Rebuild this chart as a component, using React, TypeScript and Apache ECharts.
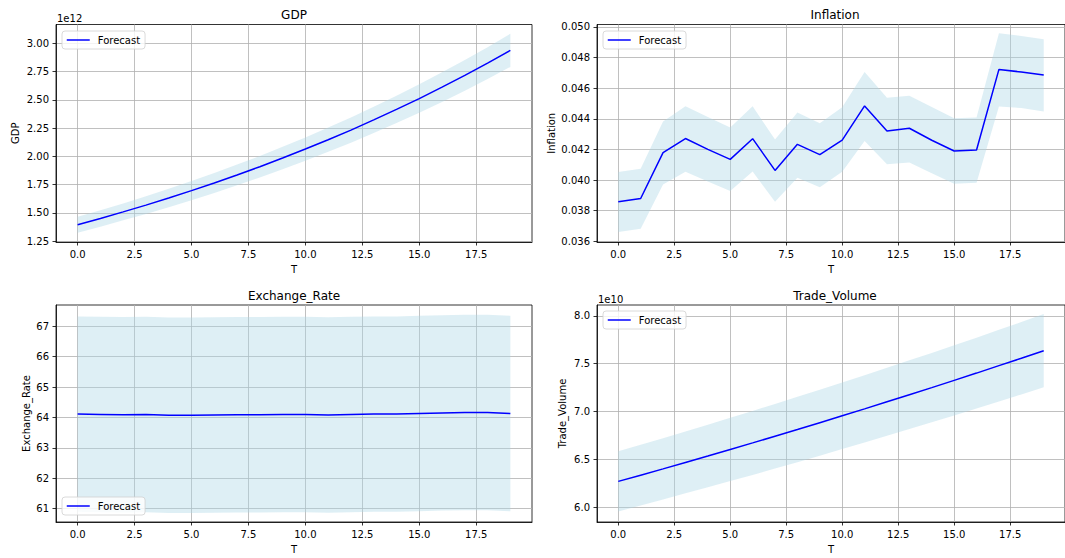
import React, { useEffect, useRef } from "react";
import * as echarts from "echarts";

const T = [0, 1, 2, 3, 4, 5, 6, 7, 8, 9, 10, 11, 12, 13, 14, 15, 16, 17, 18, 19];
const X_TICKS = [0, 2.5, 5, 7.5, 10, 12.5, 15, 17.5];

// GDP (x 1e12)
const GDP = [1.395, 1.451, 1.509, 1.569, 1.632, 1.697, 1.765, 1.836, 1.909, 1.986, 2.065, 2.148, 2.233, 2.323, 2.416, 2.512, 2.613, 2.717, 2.826, 2.939];
const GDP_UP = [1.465, 1.524, 1.584, 1.647, 1.714, 1.782, 1.853, 1.928, 2.004, 2.085, 2.168, 2.255, 2.345, 2.439, 2.537, 2.638, 2.744, 2.853, 2.967, 3.086];
const GDP_LO = [1.325, 1.378, 1.434, 1.491, 1.55, 1.612, 1.677, 1.744, 1.814, 1.887, 1.962, 2.041, 2.121, 2.207, 2.295, 2.386, 2.482, 2.581, 2.685, 2.792];
const GDP_TICKS = [1.25, 1.5, 1.75, 2.0, 2.25, 2.5, 2.75, 3.0];

// Inflation
const INF = [0.03858, 0.0388, 0.04179, 0.04271, 0.0420, 0.04135, 0.0427, 0.04063, 0.04233, 0.04166, 0.04261, 0.04484, 0.0432, 0.04338, 0.0426, 0.0419, 0.04196, 0.04722, 0.04705, 0.04685];
const INF_UP = [0.04052, 0.04074, 0.04382, 0.04482, 0.04412, 0.04343, 0.04482, 0.04264, 0.04441, 0.04371, 0.04475, 0.04705, 0.04537, 0.0455, 0.04477, 0.04403, 0.04408, 0.04958, 0.0494, 0.04919];
const INF_LO = [0.03661, 0.03683, 0.03971, 0.04054, 0.03991, 0.03928, 0.04056, 0.03858, 0.04015, 0.03954, 0.04054, 0.04255, 0.04104, 0.04115, 0.04045, 0.03976, 0.03982, 0.0448, 0.0447, 0.04447];
const INF_TICKS = [0.036, 0.038, 0.04, 0.042, 0.044, 0.046, 0.048, 0.05];

// Exchange rate
const FX = [64.11, 64.1, 64.09, 64.1, 64.07, 64.07, 64.08, 64.09, 64.09, 64.1, 64.1, 64.08, 64.1, 64.11, 64.11, 64.13, 64.15, 64.16, 64.16, 64.13];
const FX_UP = [67.33, 67.32, 67.31, 67.32, 67.29, 67.29, 67.3, 67.31, 67.31, 67.32, 67.32, 67.3, 67.32, 67.33, 67.33, 67.35, 67.37, 67.38, 67.38, 67.35];
const FX_LO = [60.89, 60.88, 60.87, 60.88, 60.85, 60.85, 60.86, 60.87, 60.87, 60.88, 60.88, 60.86, 60.88, 60.89, 60.89, 60.91, 60.93, 60.94, 60.94, 60.91];
const FX_TICKS = [61, 62, 63, 64, 65, 66, 67];

// Trade volume (x 1e10)
const TV = [6.271, 6.336, 6.402, 6.469, 6.536, 6.605, 6.673, 6.743, 6.813, 6.884, 6.956, 7.028, 7.102, 7.176, 7.25, 7.326, 7.402, 7.48, 7.557, 7.636];
const TV_UP = [6.585, 6.653, 6.722, 6.792, 6.863, 6.935, 7.007, 7.08, 7.154, 7.228, 7.304, 7.379, 7.457, 7.535, 7.613, 7.692, 7.772, 7.854, 7.935, 8.018];
const TV_LO = [5.957, 6.019, 6.082, 6.146, 6.209, 6.275, 6.339, 6.406, 6.472, 6.54, 6.608, 6.677, 6.747, 6.817, 6.888, 6.96, 7.032, 7.106, 7.179, 7.254];
const TV_TICKS = [6.0, 6.5, 7.0, 7.5, 8.0];

const FONT = "DejaVu Sans";

type Panel = {
  title: string;
  yName: string;
  mid: number[];
  up: number[];
  lo: number[];
  ticks: number[];
  yMin: number;
  yMax: number;
  decimals: number;
  offsetText: string;
  grid: { left: number; top: number; width: number; height: number };
  nameGap: number;
  legendTop: number;
};

const PANELS: Panel[] = [
  { title: "GDP", yName: "GDP", mid: GDP, up: GDP_UP, lo: GDP_LO, ticks: GDP_TICKS, yMin: 1.2425, yMax: 3.1675, decimals: 2, offsetText: "1e12",
    grid: { left: 56, top: 24.5, width: 476, height: 217.5 }, nameGap: 36, legendTop: 31 },
  { title: "Inflation", yName: "Inflation", mid: INF, up: INF_UP, lo: INF_LO, ticks: INF_TICKS, yMin: 0.03596, yMax: 0.05015, decimals: 3, offsetText: "",
    grid: { left: 597, top: 24.5, width: 476, height: 217.5 }, nameGap: 41, legendTop: 31 },
  { title: "Exchange_Rate", yName: "Exchange_Rate", mid: FX, up: FX_UP, lo: FX_LO, ticks: FX_TICKS, yMin: 60.555, yMax: 67.705, decimals: 0, offsetText: "",
    grid: { left: 56, top: 305, width: 476, height: 217 }, nameGap: 25, legendTop: 497 },
  { title: "Trade_Volume", yName: "Trade_Volume", mid: TV, up: TV_UP, lo: TV_LO, ticks: TV_TICKS, yMin: 5.847, yMax: 8.113, decimals: 1, offsetText: "1e10",
    grid: { left: 597, top: 305, width: 476, height: 217 }, nameGap: 30, legendTop: 311 },
];

export default function App() {
  const ref = useRef<HTMLDivElement>(null);
  useEffect(() => {
    if (!ref.current) return;
    const chart = echarts.init(ref.current, undefined, { renderer: "svg" });
    const axisLineStyle = { color: "#000", width: 0.8 };
    const splitLine = { show: true, lineStyle: { color: "#b0b0b0", width: 0.8 } };

    const grids: any[] = [];
    const xAxes: any[] = [];
    const yAxes: any[] = [];
    const series: any[] = [];
    const legends: any[] = [];
    const graphics: any[] = [];

    PANELS.forEach((p, gi) => {
      grids.push({ ...p.grid, show: true, borderColor: "#000", borderWidth: 0.8, backgroundColor: "transparent" });
      xAxes.push({
        type: "value", gridIndex: gi, min: -0.95, max: 19.95,
        name: "T", nameLocation: "middle", nameGap: 22,
        nameTextStyle: { fontFamily: FONT, fontSize: 10, color: "#000" },
        axisLine: { show: true, onZero: false, lineStyle: axisLineStyle },
        axisTick: { show: true, length: 3.5, lineStyle: axisLineStyle, customValues: X_TICKS },
        axisLabel: { fontFamily: FONT, fontSize: 10, color: "#000", margin: 7, customValues: X_TICKS,
          formatter: (v: number) => v.toFixed(1) },
        splitLine: { ...splitLine, customValues: X_TICKS },
      });
      yAxes.push({
        type: "value", gridIndex: gi, min: p.yMin, max: p.yMax,
        name: p.yName, nameLocation: "middle", nameGap: p.nameGap,
        nameTextStyle: { fontFamily: FONT, fontSize: 10, color: "#000" },
        axisLine: { show: true, onZero: false, lineStyle: axisLineStyle },
        axisTick: { show: true, length: 3.5, lineStyle: axisLineStyle, customValues: p.ticks },
        axisLabel: { fontFamily: FONT, fontSize: 10, color: "#000", margin: 7, customValues: p.ticks,
          formatter: (v: number) => v.toFixed(p.decimals) },
        splitLine: { ...splitLine, customValues: p.ticks },
      });
      series.push({
        type: "custom", xAxisIndex: gi, yAxisIndex: gi, silent: true, z: 1,
        data: T.map((t, i) => [t, p.lo[i], p.up[i]]),
        encode: { x: 0, y: [1, 2] },
        renderItem: (params: any, api: any) => {
          if (params.dataIndex !== 0) return null;
          const pts: number[][] = [];
          for (let i = 0; i < T.length; i++) pts.push(api.coord([T[i], p.up[i]]));
          for (let i = T.length - 1; i >= 0; i--) pts.push(api.coord([T[i], p.lo[i]]));
          return { type: "polygon", shape: { points: pts }, style: { fill: "rgba(173,216,230,0.4)", stroke: null } };
        },
      });
      series.push({
        type: "line", name: "Forecast", xAxisIndex: gi, yAxisIndex: gi, z: 3,
        data: T.map((t, i) => [t, p.mid[i]]),
        symbol: "none", showSymbol: false,
        lineStyle: { color: "#0000ff", width: 1.5 },
        itemStyle: { color: "#0000ff" },
      });
      legends.push({
        data: ["Forecast"], left: p.grid.left + 6, top: p.legendTop, orient: "vertical",
        itemWidth: 23, itemHeight: 10, padding: [4, 5, 4, 4],
        borderColor: "#d0d0d0", borderWidth: 0.8, borderRadius: 3,
        backgroundColor: "rgba(255,255,255,0.8)",
        itemStyle: { opacity: 0 },
        lineStyle: { width: 1.5, color: "#0000ff" },
        textStyle: { fontFamily: FONT, fontSize: 10, color: "#000", padding: [0, 0, 0, 3] },
        selectedMode: false,
      });
      const cx = p.grid.left + p.grid.width / 2;
      graphics.push({
        type: "text", x: cx, y: p.grid.top - 9.5,
        style: { text: p.title, font: `12px "${FONT}"`, fill: "#000", align: "center", verticalAlign: "middle", textAlign: "center", textVerticalAlign: "middle" },
      });
      if (p.offsetText) {
        graphics.push({
          type: "text", x: p.grid.left + 1, y: p.grid.top - 6,
          style: { text: p.offsetText, font: `10px "${FONT}"`, fill: "#000", align: "left", verticalAlign: "middle", textAlign: "left", textVerticalAlign: "middle" },
        });
      }
    });

    chart.setOption({
      animation: false,
      backgroundColor: "#fff",
      grid: grids,
      xAxis: xAxes,
      yAxis: yAxes,
      series,
      legend: legends,
      graphic: graphics,
    });
    return () => chart.dispose();
  }, []);
  return <div ref={ref} style={{ position: "fixed", left: 0, top: 0, width: 1065, height: 558 }} />;
}
